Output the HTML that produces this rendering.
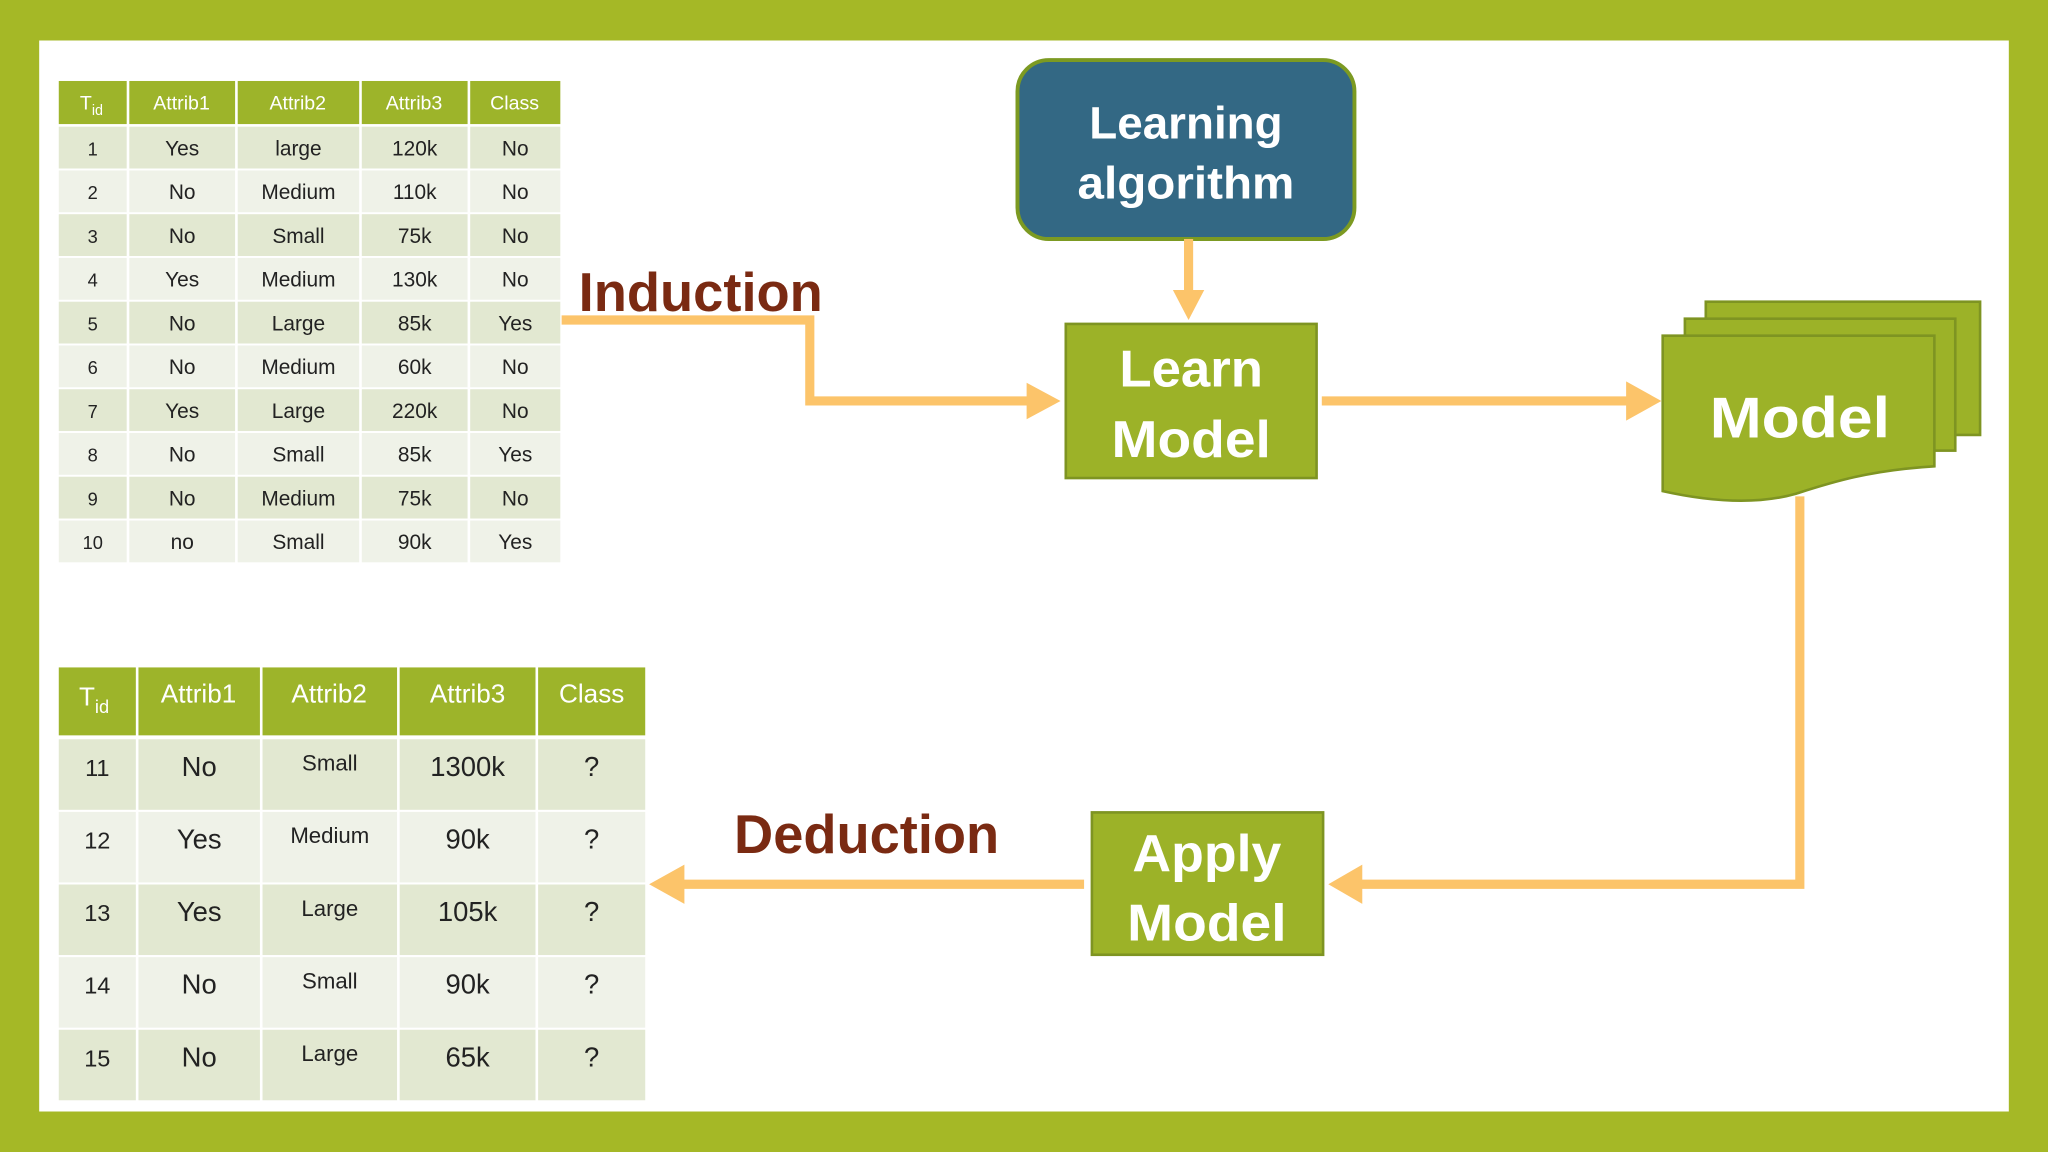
<!DOCTYPE html>
<html><head><meta charset="utf-8"><style>
html,body{margin:0;padding:0;background:#a5b826;}
svg{display:block}
text{font-family:"Liberation Sans",sans-serif}
</style></head><body>
<svg width="2048" height="1152" viewBox="0 0 1568 882" xmlns="http://www.w3.org/2000/svg">
<rect x="0" y="0" width="1568" height="882" fill="#a5b826"/>
<rect x="30" y="31" width="1508" height="820" fill="#ffffff"/>

<!-- Top table -->
<g font-size="15" text-anchor="middle" fill="#222">
<g fill="#9db42a">
<rect x="45" y="62" width="52" height="33"/><rect x="99" y="62" width="81" height="33"/><rect x="182" y="62" width="93" height="33"/><rect x="277" y="62" width="81" height="33"/><rect x="360" y="62" width="69" height="33"/>
</g>
<g fill="#fff" font-size="15">
<text x="70" y="84">T<tspan font-size="11" dy="4">id</tspan></text>
<text x="139" y="84">Attrib1</text><text x="228" y="84">Attrib2</text><text x="317" y="84">Attrib3</text><text x="394" y="84">Class</text>
</g>
</g>
<g id="top" font-size="16" text-anchor="middle" fill="#222"></g>

<!-- Bottom table -->
<g fill="#9db42a">
<rect x="45" y="511" width="59" height="52"/><rect x="106" y="511" width="93" height="52"/><rect x="201" y="511" width="103" height="52"/><rect x="306" y="511" width="104" height="52"/><rect x="412" y="511" width="82" height="52"/>
</g>
<g fill="#fff" font-size="20" text-anchor="middle">
<text x="72" y="540">T<tspan font-size="14" dy="6">id</tspan></text>
<text x="152" y="538">Attrib1</text><text x="252" y="538">Attrib2</text><text x="358" y="538">Attrib3</text><text x="453" y="538">Class</text>
</g>
<g id="bot" text-anchor="middle" fill="#222"></g>

<!-- Learning algorithm -->
<rect x="779" y="46" width="258" height="137" rx="24" fill="#336884" stroke="#7c9a22" stroke-width="3"/>
<text x="908" y="106" font-size="35" font-weight="bold" fill="#fff" text-anchor="middle" textLength="148" lengthAdjust="spacingAndGlyphs">Learning</text>
<text x="908" y="152" font-size="35" font-weight="bold" fill="#fff" text-anchor="middle" textLength="166" lengthAdjust="spacingAndGlyphs">algorithm</text>

<!-- Learn Model -->
<rect x="816" y="248" width="192" height="118" fill="#9cb228" stroke="#7e9422" stroke-width="2"/>
<text x="912" y="296" font-size="40" font-weight="bold" fill="#fff" text-anchor="middle" textLength="110" lengthAdjust="spacingAndGlyphs">Learn</text>
<text x="912" y="350" font-size="40" font-weight="bold" fill="#fff" text-anchor="middle" textLength="122" lengthAdjust="spacingAndGlyphs">Model</text>

<!-- Apply Model -->
<rect x="836" y="622" width="177" height="109" fill="#9cb228" stroke="#7e9422" stroke-width="2"/>
<text x="924" y="667" font-size="40" font-weight="bold" fill="#fff" text-anchor="middle" textLength="114" lengthAdjust="spacingAndGlyphs">Apply</text>
<text x="924" y="720" font-size="40" font-weight="bold" fill="#fff" text-anchor="middle" textLength="122" lengthAdjust="spacingAndGlyphs">Model</text>

<!-- Model doc stack -->
<rect x="1306" y="231" width="210" height="102" fill="#9cb228" stroke="#7e9422" stroke-width="2"/>
<rect x="1290" y="244" width="207" height="101" fill="#9cb228" stroke="#7e9422" stroke-width="2"/>
<path d="M1273 257 H1481 V357 C1430 360 1400 370 1375 378 C1340 388 1300 382 1273 376 Z" fill="#9cb228" stroke="#7e9422" stroke-width="2"/>
<text x="1378" y="335" font-size="44" font-weight="bold" fill="#fff" text-anchor="middle" textLength="138" lengthAdjust="spacingAndGlyphs">Model</text>

<!-- Labels -->
<text x="443" y="238" font-size="42" font-weight="bold" fill="#7a2a12" textLength="187" lengthAdjust="spacingAndGlyphs">Induction</text>
<text x="562" y="653" font-size="42" font-weight="bold" fill="#7a2a12" textLength="203" lengthAdjust="spacingAndGlyphs">Deduction</text>

<!-- Connectors -->
<g fill="none" stroke="#fcc46a" stroke-width="7">
<polyline points="430,245 620,245 620,307 790,307"/>
<line x1="910" y1="183" x2="910" y2="228"/>
<line x1="1012" y1="307" x2="1250" y2="307"/>
<polyline points="1378,380 1378,677 1040,677"/>
<line x1="830" y1="677" x2="518" y2="677"/>
</g>
<g fill="#fcc46a">
<polygon points="786,293 812,307 786,321"/>
<polygon points="898,222 922,222 910,245"/>
<polygon points="1245,292 1272,307 1245,322"/>
<polygon points="1043,662 1017,677 1043,692"/>
<polygon points="524,662 497,677 524,692"/>
</g>
</svg>
<script>
(function(){
var ns="http://www.w3.org/2000/svg";
function R(g,x,y,w,h,f){var r=document.createElementNS(ns,"rect");r.setAttribute("x",x);r.setAttribute("y",y);r.setAttribute("width",w);r.setAttribute("height",h);r.setAttribute("fill",f);g.appendChild(r);}
function T(g,x,y,s,fs){var t=document.createElementNS(ns,"text");t.setAttribute("x",x);t.setAttribute("y",y);t.setAttribute("font-size",fs);t.textContent=s;g.appendChild(t);}
var top=document.getElementById("top");
var cols=[[45,52],[99,81],[182,93],[277,81],[360,69]];
var d=[["1","Yes","large","120k","No"],["2","No","Medium","110k","No"],["3","No","Small","75k","No"],["4","Yes","Medium","130k","No"],["5","No","Large","85k","Yes"],["6","No","Medium","60k","No"],["7","Yes","Large","220k","No"],["8","No","Small","85k","Yes"],["9","No","Medium","75k","No"],["10","no","Small","90k","Yes"]];
for(var i=0;i<10;i++){var y=97+i*33.5;var f=i%2==0?"#e2e8d1":"#eff2e8";
for(var j=0;j<5;j++){R(top,cols[j][0],y,cols[j][1],32,f);T(top,cols[j][0]+cols[j][1]/2,y+22,d[i][j],j==0?14:16);}}
var bot=document.getElementById("bot");
var c2=[[45,59],[106,93],[201,103],[306,104],[412,82]];
var e=[["11","No","Small","1300k","?"],["12","Yes","Medium","90k","?"],["13","Yes","Large","105k","?"],["14","No","Small","90k","?"],["15","No","Large","65k","?"]];
for(var i=0;i<5;i++){var y=566+i*55.6;var f=i%2==0?"#e2e8d1":"#eff2e8";
for(var j=0;j<5;j++){R(bot,c2[j][0],y,c2[j][1],54,f);var yy=j==2?y+24:y+28;T(bot,c2[j][0]+c2[j][1]/2,yy,e[i][j],j==2?17:(j==0?18:21));}}
})();
</script>
</body></html>
